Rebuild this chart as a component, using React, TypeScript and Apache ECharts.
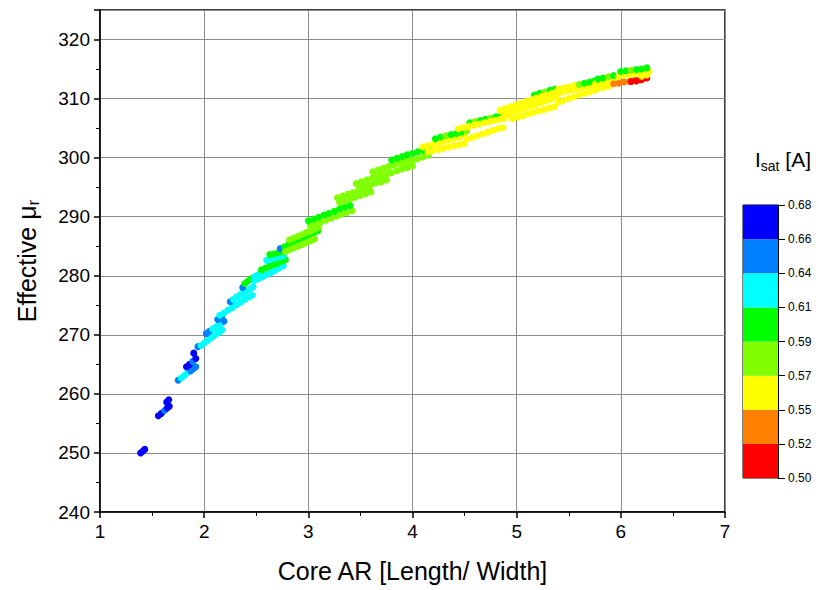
import React, { useEffect, useRef } from "react";
import * as echarts from "echarts";

// Colour scale of I_sat [A]
const isatBounds = [0.5, 0.52, 0.55, 0.57, 0.59, 0.61, 0.64, 0.66, 0.68];
const isatLabels = ["0.50", "0.52", "0.55", "0.57", "0.59", "0.61", "0.64", "0.66", "0.68"];
const isatColors = ["#ff0000", "#ff8000", "#ffff00", "#80ff00", "#00ff00", "#00ffff", "#0080ff", "#0000ff"];

// [Core AR, effective mu_r, I_sat]
const ptsLow = [
  [1.39, 250.0, 0.67], [1.41, 250.3, 0.67], [1.43, 250.6, 0.67],
  [1.56, 256.3, 0.67], [1.59, 256.7, 0.66], [1.62, 257.2, 0.655], [1.645, 257.6, 0.67], [1.665, 257.9, 0.67],
  [1.64, 258.6, 0.675], [1.66, 259.0, 0.675],
  [1.75, 262.3, 0.645], [1.78, 262.7, 0.635], [1.81, 263.1, 0.63], [1.84, 263.6, 0.635], [1.87, 263.9, 0.645], [1.9, 264.3, 0.64], [1.92, 264.6, 0.65],
  [1.83, 264.6, 0.675], [1.86, 265.0, 0.66], [1.89, 265.5, 0.655], [1.92, 266.0, 0.66],
  [1.9, 266.9, 0.675],
  [1.94, 268.0, 0.655], [1.97, 268.2, 0.63], [2.0, 268.6, 0.625], [2.03, 269.0, 0.62], [2.06, 269.4, 0.615], [2.09, 269.8, 0.625], [2.12, 270.2, 0.62], [2.15, 270.5, 0.615], [2.17, 270.8, 0.625],
  [2.02, 270.2, 0.655], [2.05, 270.6, 0.64], [2.08, 271.0, 0.635], [2.11, 271.3, 0.63], [2.14, 271.7, 0.63], [2.17, 272.0, 0.635], [2.19, 272.3, 0.64],
  [2.13, 272.6, 0.655], [2.17, 272.8, 0.65],
  [2.15, 273.3, 0.62], [2.19, 273.7, 0.615], [2.23, 274.2, 0.62], [2.27, 274.6, 0.62], [2.31, 275.1, 0.625], [2.35, 275.5, 0.62], [2.39, 276.0, 0.62], [2.43, 276.4, 0.625], [2.46, 276.7, 0.62],
  [2.25, 275.6, 0.65], [2.28, 276.0, 0.63], [2.31, 276.4, 0.625], [2.34, 276.7, 0.62], [2.37, 277.1, 0.625], [2.4, 277.4, 0.62], [2.44, 277.8, 0.62], [2.47, 278.1, 0.62],
  [2.37, 278.0, 0.655],
  [2.39, 278.7, 0.6], [2.42, 279.1, 0.6], [2.45, 279.5, 0.605], [2.48, 279.8, 0.61], [2.51, 280.1, 0.62], [2.54, 280.4, 0.62],
  [2.48, 279.2, 0.62], [2.52, 279.5, 0.625], [2.56, 279.8, 0.62], [2.6, 280.2, 0.62], [2.64, 280.5, 0.615], [2.68, 280.9, 0.62], [2.72, 281.3, 0.62], [2.76, 281.7, 0.625],
  [2.55, 281.0, 0.6], [2.59, 281.3, 0.605], [2.63, 281.6, 0.6], [2.67, 281.9, 0.6], [2.71, 282.2, 0.6], [2.75, 282.5, 0.605], [2.78, 282.7, 0.6],
  [2.6, 282.6, 0.63], [2.64, 282.8, 0.625], [2.68, 283.0, 0.62], [2.72, 283.2, 0.62], [2.76, 283.4, 0.615],
  [2.63, 283.6, 0.6], [2.67, 283.7, 0.6], [2.71, 283.9, 0.595], [2.75, 284.1, 0.6],
];

const ptsMid = [
  [2.73, 284.6, 0.65], [2.77, 284.9, 0.6], [2.81, 285.3, 0.6], [2.85, 285.6, 0.6], [2.89, 286.0, 0.6], [2.93, 286.3, 0.595], [2.97, 286.6, 0.6], [3.01, 287.0, 0.6], [3.05, 287.3, 0.6], [3.09, 287.6, 0.6],
  [2.78, 284.1, 0.58], [2.82, 284.4, 0.585], [2.86, 284.7, 0.58], [2.9, 285.0, 0.58], [2.94, 285.3, 0.585], [2.98, 285.6, 0.58], [3.02, 285.9, 0.58], [3.06, 286.2, 0.585],
  [2.82, 286.1, 0.585], [2.86, 286.4, 0.58], [2.9, 286.7, 0.585], [2.94, 287.0, 0.58], [2.98, 287.3, 0.58], [3.02, 287.6, 0.585], [3.06, 287.9, 0.58], [3.1, 288.2, 0.58],
  [3.02, 288.5, 0.58], [3.07, 288.8, 0.585], [3.12, 289.1, 0.58], [3.17, 289.4, 0.58], [3.22, 289.8, 0.585], [3.27, 290.1, 0.58], [3.32, 290.4, 0.58], [3.37, 290.7, 0.58], [3.42, 291.0, 0.585],
  [3.0, 289.3, 0.6], [3.05, 289.6, 0.6], [3.1, 289.9, 0.6], [3.15, 290.3, 0.6], [3.2, 290.6, 0.595], [3.25, 290.9, 0.6], [3.3, 291.3, 0.6], [3.35, 291.6, 0.6], [3.4, 291.9, 0.6],
  [3.3, 292.4, 0.58], [3.35, 292.7, 0.575], [3.4, 293.0, 0.58], [3.45, 293.3, 0.58], [3.5, 293.6, 0.575], [3.55, 293.9, 0.58], [3.6, 294.2, 0.58],
  [3.28, 293.2, 0.585], [3.33, 293.5, 0.58], [3.38, 293.8, 0.58], [3.43, 294.1, 0.585], [3.48, 294.4, 0.58], [3.53, 294.7, 0.58], [3.58, 295.0, 0.58],
  [3.5, 294.9, 0.575], [3.55, 295.1, 0.58], [3.6, 295.4, 0.58], [3.65, 295.7, 0.575], [3.7, 295.9, 0.58], [3.75, 296.2, 0.58],
  [3.46, 295.6, 0.58], [3.51, 295.9, 0.585], [3.56, 296.2, 0.58], [3.61, 296.5, 0.58], [3.66, 296.8, 0.58], [3.71, 297.1, 0.585], [3.76, 297.3, 0.58],
  [3.7, 296.9, 0.575], [3.75, 297.2, 0.58], [3.8, 297.5, 0.58], [3.85, 297.8, 0.575], [3.9, 298.1, 0.58], [3.95, 298.3, 0.58], [4.0, 298.6, 0.575],
  [3.62, 297.6, 0.58], [3.67, 297.9, 0.58], [3.72, 298.2, 0.585], [3.77, 298.5, 0.58], [3.82, 298.8, 0.58], [3.87, 299.1, 0.585], [3.92, 299.4, 0.58], [3.97, 299.6, 0.58],
  [3.9, 298.9, 0.58], [3.95, 299.2, 0.58], [4.0, 299.5, 0.575], [4.05, 299.8, 0.58], [4.1, 300.1, 0.58], [4.15, 300.4, 0.575],
  [3.8, 299.6, 0.595], [3.85, 299.9, 0.59], [3.9, 300.2, 0.59], [3.95, 300.5, 0.595], [4.0, 300.7, 0.59], [4.05, 301.0, 0.59], [4.1, 301.2, 0.595], [4.15, 301.4, 0.59],
];

const ptsHigh = [
  [4.15, 301.0, 0.56], [4.2, 301.2, 0.565], [4.25, 301.4, 0.56], [4.3, 301.6, 0.56], [4.35, 301.8, 0.56], [4.4, 302.0, 0.565], [4.45, 302.2, 0.56], [4.5, 302.4, 0.56],
  [4.1, 301.8, 0.56], [4.15, 302.0, 0.56], [4.2, 302.3, 0.565], [4.25, 302.5, 0.56], [4.3, 302.8, 0.56], [4.35, 303.0, 0.56], [4.4, 303.3, 0.565], [4.45, 303.5, 0.56], [4.5, 303.8, 0.56],
  [4.22, 303.2, 0.59], [4.27, 303.5, 0.59], [4.32, 303.7, 0.585], [4.37, 303.9, 0.59], [4.42, 304.1, 0.59], [4.47, 304.3, 0.59], [4.52, 304.5, 0.585],
  [4.52, 303.1, 0.56], [4.57, 303.4, 0.56], [4.62, 303.7, 0.565], [4.67, 304.0, 0.56], [4.72, 304.3, 0.56], [4.77, 304.6, 0.56], [4.82, 304.9, 0.565], [4.87, 305.1, 0.56],
  [4.55, 305.9, 0.59], [4.6, 306.1, 0.585], [4.65, 306.3, 0.59], [4.7, 306.5, 0.59], [4.75, 306.7, 0.585], [4.8, 306.9, 0.59], [4.85, 307.1, 0.59], [4.9, 307.3, 0.59],
  [4.44, 304.9, 0.56], [4.49, 305.1, 0.56], [4.54, 305.3, 0.565], [4.59, 305.5, 0.56], [4.64, 305.7, 0.56], [4.69, 305.9, 0.56], [4.74, 306.1, 0.565], [4.79, 306.3, 0.56], [4.84, 306.5, 0.56], [4.89, 306.7, 0.56],
  [4.96, 306.6, 0.56], [5.01, 306.9, 0.56], [5.06, 307.1, 0.565], [5.11, 307.4, 0.56], [5.16, 307.7, 0.56], [5.21, 307.9, 0.56], [5.26, 308.1, 0.565], [5.31, 308.4, 0.56], [5.36, 308.6, 0.56],
  [4.88, 307.2, 0.56], [4.93, 307.5, 0.565], [4.98, 307.8, 0.56], [5.03, 308.1, 0.56], [5.08, 308.4, 0.56], [5.13, 308.7, 0.565], [5.18, 309.0, 0.56], [5.23, 309.3, 0.56], [5.28, 309.6, 0.56], [5.33, 309.9, 0.565], [5.38, 310.2, 0.56],
  [5.17, 310.6, 0.59], [5.22, 310.9, 0.59], [5.27, 311.1, 0.585], [5.32, 311.4, 0.59], [5.37, 311.6, 0.59],
  [4.84, 308.0, 0.56], [4.89, 308.3, 0.56], [4.94, 308.6, 0.565], [4.99, 308.9, 0.56], [5.04, 309.2, 0.56], [5.09, 309.5, 0.56], [5.14, 309.8, 0.565], [5.19, 310.1, 0.56], [5.24, 310.4, 0.56], [5.29, 310.6, 0.56], [5.34, 310.9, 0.56], [5.39, 311.2, 0.56],
  [5.4, 309.4, 0.56], [5.45, 309.7, 0.56], [5.5, 310.0, 0.565], [5.55, 310.3, 0.56], [5.6, 310.6, 0.56], [5.65, 310.9, 0.56], [5.7, 311.1, 0.565], [5.75, 311.4, 0.56],
  [5.38, 310.9, 0.56], [5.43, 311.1, 0.56], [5.48, 311.3, 0.565], [5.53, 311.5, 0.56], [5.58, 311.7, 0.56], [5.63, 311.9, 0.56], [5.68, 312.1, 0.565], [5.73, 312.3, 0.56],
  [5.4, 311.6, 0.56], [5.45, 311.8, 0.565], [5.5, 312.0, 0.56], [5.55, 312.2, 0.56], [5.6, 312.4, 0.585], [5.65, 312.6, 0.59], [5.7, 312.8, 0.59], [5.75, 313.0, 0.59],
  [5.78, 311.7, 0.56], [5.83, 311.9, 0.56], [5.88, 312.1, 0.565],
  [5.76, 312.6, 0.56], [5.81, 312.8, 0.56], [5.86, 313.0, 0.565], [5.91, 313.2, 0.56], [5.96, 313.4, 0.56],
  [5.78, 313.3, 0.59], [5.83, 313.5, 0.59], [5.88, 313.7, 0.585], [5.93, 313.9, 0.59],
  [5.93, 312.5, 0.535], [5.98, 312.6, 0.53], [6.03, 312.8, 0.535], [6.08, 312.9, 0.53], [6.13, 313.1, 0.535], [6.18, 313.2, 0.53],
  [6.1, 312.9, 0.515], [6.15, 313.0, 0.51], [6.2, 313.2, 0.515], [6.25, 313.5, 0.51],
  [5.98, 313.8, 0.56], [6.03, 314.0, 0.56], [6.08, 314.1, 0.565], [6.13, 314.2, 0.56], [6.18, 314.4, 0.56], [6.23, 314.5, 0.56], [6.27, 314.6, 0.56],
  [6.2, 313.8, 0.56], [6.25, 314.0, 0.565],
  [6.0, 314.6, 0.59], [6.05, 314.7, 0.59], [6.1, 314.8, 0.585], [6.15, 314.9, 0.59], [6.2, 315.0, 0.59], [6.25, 315.2, 0.59],
];

const FONT = "'Liberation Sans', Arial, Helvetica, sans-serif";

export default function App() {
  const ref = useRef<HTMLDivElement>(null);

  useEffect(() => {
    if (!ref.current) return;
    const chart = echarts.init(ref.current, undefined, { renderer: "svg" });
    const points = [...ptsLow, ...ptsMid, ...ptsHigh];

    const pieces = isatColors.map((c, i) =>
      i === isatColors.length - 1
        ? { gte: isatBounds[i], lte: isatBounds[i + 1], color: c }
        : { gte: isatBounds[i], lt: isatBounds[i + 1], color: c }
    );

    const option: any = {
      animation: false,
      backgroundColor: "#ffffff",
      textStyle: { fontFamily: FONT },
      grid: [
        { left: 100, top: 10, width: 625, height: 502, show: true, borderColor: "#000", borderWidth: 1.5, backgroundColor: "transparent", containLabel: false },
        { left: 743, top: 205, width: 35, height: 273, show: true, borderColor: "#000", borderWidth: 1, backgroundColor: "transparent", containLabel: false },
      ],
      xAxis: [
        {
          gridIndex: 0,
          type: "value",
          min: 1,
          max: 7,
          interval: 1,
          name: "Core AR [Length/ Width]",
          nameLocation: "middle",
          nameGap: 46,
          nameTextStyle: { fontSize: 25, color: "#000", fontFamily: FONT },
          axisLine: { onZero: false, lineStyle: { color: "#000", width: 1.5 } },
          axisTick: { show: true, inside: false, length: 6, lineStyle: { color: "#000", width: 1.5 } },
          minorTick: { show: true, splitNumber: 2, length: 4, lineStyle: { color: "#000", width: 1 } },
          splitLine: { show: true, lineStyle: { color: "#8c8c8c", width: 1 } },
          axisLabel: { fontSize: 19, color: "#000", margin: 10, fontFamily: FONT },
        },
        { gridIndex: 1, type: "category", data: ["scale"], show: false },
      ],
      yAxis: [
        {
          gridIndex: 0,
          type: "value",
          min: 240,
          max: 325,
          interval: 10,
          name: "{a|Effective μ}{s|r}",
          nameLocation: "middle",
          nameRotate: 90,
          nameGap: 58,
          nameTextStyle: {
            color: "#000",
            fontFamily: FONT,
            rich: {
              a: { fontSize: 25, lineHeight: 30, color: "#000", fontFamily: FONT },
              s: { fontSize: 17, lineHeight: 17, verticalAlign: "bottom", color: "#000", fontFamily: FONT },
            },
          },
          axisLine: { onZero: false, lineStyle: { color: "#000", width: 1.5 } },
          axisTick: { show: true, inside: false, length: 6, lineStyle: { color: "#000", width: 1.5 } },
          minorTick: { show: true, splitNumber: 2, length: 4, lineStyle: { color: "#000", width: 1 } },
          splitLine: { show: true, lineStyle: { color: "#8c8c8c", width: 1 } },
          axisLabel: { fontSize: 19, color: "#000", margin: 10, fontFamily: FONT, showMaxLabel: false },
        },
        {
          gridIndex: 1,
          type: "value",
          min: 0,
          max: 8,
          interval: 1,
          position: "right",
          axisLine: { show: true, lineStyle: { color: "#000", width: 1 } },
          axisTick: { show: true, inside: false, length: 7, lineStyle: { color: "#000", width: 1 } },
          splitLine: { show: false },
          axisLabel: {
            fontSize: 12,
            color: "#000",
            margin: 10,
            fontFamily: FONT,
            formatter: (v: number) => isatLabels[Math.round(v)] ?? "",
          },
        },
      ],
      visualMap: {
        type: "piecewise",
        show: false,
        dimension: 2,
        seriesIndex: 0,
        pieces,
      },
      graphic: [
        {
          type: "text",
          left: 755,
          top: 149,
          silent: true,
          style: {
            text: "{a|I}{s|sat}{a| [A]}",
            fill: "#000",
            rich: {
              a: { fontSize: 21, lineHeight: 26, fill: "#000", fontFamily: FONT },
              s: { fontSize: 14, lineHeight: 14, verticalAlign: "bottom", fill: "#000", fontFamily: FONT },
            },
          },
        },
      ],
      series: [
        {
          type: "scatter",
          xAxisIndex: 0,
          yAxisIndex: 0,
          data: points,
          symbol: "circle",
          symbolSize: 7,
          itemStyle: { opacity: 1 },
          emphasis: { disabled: true },
          z: 3,
        },
        ...isatColors.map((c) => ({
          type: "bar",
          xAxisIndex: 1,
          yAxisIndex: 1,
          stack: "colorbar",
          data: [1],
          barWidth: "100%",
          itemStyle: { color: c },
          silent: true,
        })),
      ],
    };

    chart.setOption(option);
    return () => chart.dispose();
  }, []);

  return <div ref={ref} style={{ position: "absolute", left: 0, top: 0, width: 819, height: 590 }} />;
}
